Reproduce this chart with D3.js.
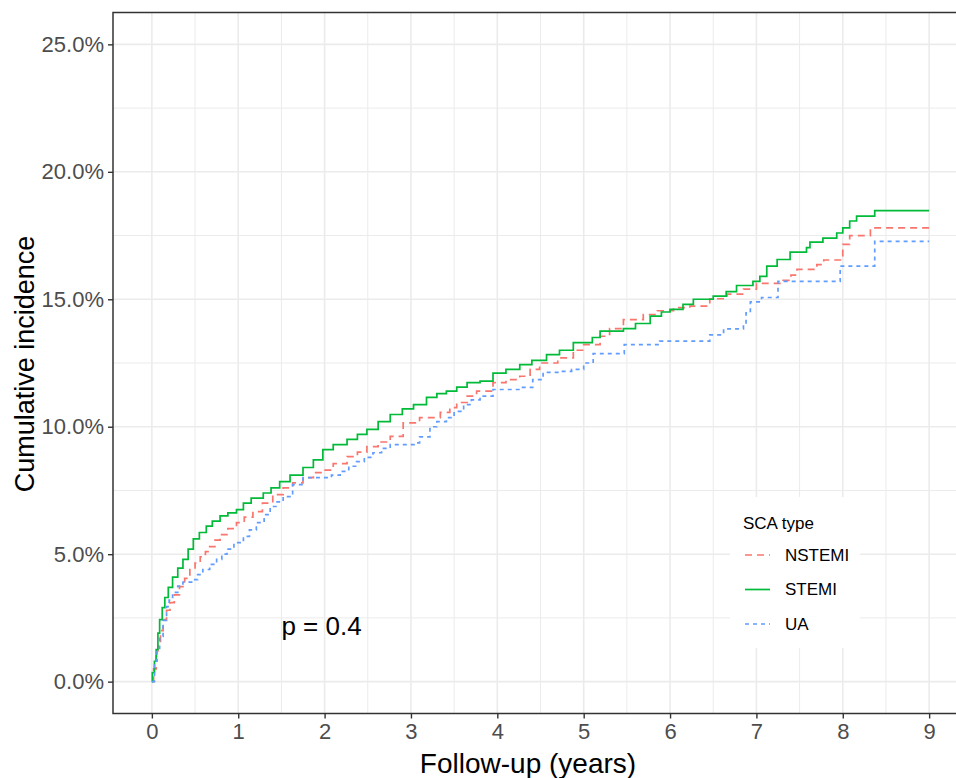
<!DOCTYPE html>
<html>
<head>
<meta charset="utf-8">
<script src="https://cdn.jsdelivr.net/npm/d3@7"></script>
<style>
  html, body { margin: 0; padding: 0; background: #fff; }
  svg { display: block; font-family: "Liberation Sans", Arial, sans-serif; }
</style>
</head>
<body>
<svg id="chart" width="956" height="778"></svg>
<script>
// ---------------- data ----------------
const seriesNames = ["NSTEMI", "STEMI", "UA"];
const xTicks = [0, 1, 2, 3, 4, 5, 6, 7, 8, 9];
const yTicks = [0, 5, 10, 15, 20, 25];
const yTickLabels = ["0.0%", "5.0%", "10.0%", "15.0%", "20.0%", "25.0%"];
const pValueLabel = "p = 0.4";

// [years, cumulative incidence %]
const nstemiData = [[0,0],[0.02,0.5],[0.05,1.0],[0.07,1.53],[0.1,2.0],[0.13,2.43],[0.17,2.8],[0.21,3.1],[0.26,3.4],[0.32,3.73],[0.38,4.05],[0.44,4.4],[0.5,4.65],[0.56,4.9],[0.62,5.1],[0.67,5.3],[0.73,5.55],[0.79,5.77],[0.88,6.0],[0.98,6.24],[1.07,6.45],[1.17,6.67],[1.28,7.0],[1.4,7.34],[1.52,7.6],[1.63,7.8],[1.75,8.0],[1.87,8.2],[1.98,8.3],[2.1,8.55],[2.26,8.83],[2.38,9.0],[2.49,9.22],[2.62,9.4],[2.76,9.62],[2.91,10.15],[3.1,10.36],[3.34,10.56],[3.45,10.75],[3.53,10.95],[3.65,11.2],[3.76,11.4],[3.95,11.73],[4.1,11.85],[4.26,11.98],[4.38,12.25],[4.49,12.5],[4.7,12.7],[4.88,13.0],[5.0,13.22],[5.19,13.55],[5.3,13.85],[5.46,14.2],[5.69,14.4],[5.85,14.55],[6.04,14.67],[6.23,14.73],[6.46,15.02],[6.66,15.2],[6.85,15.4],[7.0,15.62],[7.31,15.74],[7.4,15.95],[7.47,16.17],[7.7,16.36],[7.78,16.54],[8.0,17.15],[8.08,17.5],[8.32,17.8],[9.0,17.8]];

const stemiData = [[0,0],[0.005,0.35],[0.03,0.8],[0.05,1.26],[0.07,1.9],[0.09,2.43],[0.12,2.9],[0.15,3.3],[0.19,3.7],[0.24,4.1],[0.3,4.45],[0.36,4.8],[0.42,5.2],[0.48,5.6],[0.55,5.85],[0.63,6.1],[0.7,6.3],[0.79,6.5],[0.88,6.62],[0.98,6.75],[1.06,7.0],[1.15,7.2],[1.29,7.4],[1.38,7.6],[1.48,7.85],[1.6,8.1],[1.75,8.4],[1.87,8.7],[1.98,9.1],[2.1,9.3],[2.26,9.5],[2.38,9.7],[2.49,9.9],[2.62,10.2],[2.76,10.48],[2.9,10.7],[3.03,10.87],[3.18,11.15],[3.3,11.3],[3.41,11.4],[3.53,11.55],[3.65,11.73],[3.8,11.79],[3.95,12.1],[4.1,12.25],[4.26,12.44],[4.4,12.6],[4.57,12.83],[4.72,13.0],[4.88,13.3],[5.1,13.5],[5.19,13.75],[5.46,13.85],[5.6,14.05],[5.77,14.34],[5.9,14.5],[6.0,14.6],[6.15,14.8],[6.27,15.0],[6.5,15.12],[6.65,15.3],[6.77,15.54],[6.96,15.7],[7.04,15.9],[7.12,16.3],[7.24,16.56],[7.39,16.85],[7.58,17.03],[7.62,17.24],[7.77,17.4],[7.93,17.6],[8.0,17.8],[8.08,18.07],[8.16,18.26],[8.37,18.48],[9.0,18.48]];

const uaData = [[0,0],[0.03,0.8],[0.06,1.3],[0.09,1.77],[0.13,2.4],[0.17,2.94],[0.2,3.2],[0.24,3.5],[0.3,3.75],[0.36,3.9],[0.48,4.0],[0.53,4.2],[0.59,4.4],[0.67,4.6],[0.75,4.8],[0.81,5.0],[0.87,5.2],[0.95,5.45],[1.06,5.7],[1.13,5.95],[1.21,6.24],[1.3,6.55],[1.37,6.87],[1.45,7.05],[1.52,7.26],[1.63,7.73],[1.75,8.0],[2.0,8.0],[2.08,8.1],[2.18,8.25],[2.28,8.45],[2.37,8.63],[2.46,8.8],[2.56,8.98],[2.66,9.15],[2.76,9.3],[3.05,9.37],[3.1,9.6],[3.22,10.0],[3.3,10.2],[3.41,10.36],[3.5,10.6],[3.61,10.87],[3.7,11.05],[3.8,11.2],[3.95,11.46],[4.26,11.54],[4.41,11.85],[4.53,12.13],[4.73,12.17],[4.86,12.25],[5.0,12.5],[5.11,12.87],[5.47,13.22],[5.88,13.36],[6.46,13.6],[6.62,13.84],[6.85,14.0],[6.88,14.47],[6.93,14.9],[7.06,15.07],[7.25,15.7],[7.97,16.3],[8.37,17.27],[9.0,17.27]];

// ---------------- drawing ----------------
const svg = d3.select("#chart");
const panel = { left: 113, right: 968, top: 12.5, bottom: 713.5 };

const x = d3.scaleLinear().domain([-0.45, 9.45]).range([panel.left, panel.right]);
const y = d3.scaleLinear().domain([-1.25, 26.25]).range([panel.bottom, panel.top]);

const colors = { NSTEMI: "#F8766D", STEMI: "#00BA38", UA: "#619CFF" };
const dashes = { NSTEMI: "7,5", STEMI: null, UA: "4,4" };
const dataBy = { NSTEMI: nstemiData, STEMI: stemiData, UA: uaData };

// grid
const grid = svg.append("g");
const xMinor = d3.range(-0.5, 10, 1).filter(v => x(v) > panel.left && x(v) < panel.right);
const yMinor = d3.range(-2.5, 27.5, 5).filter(v => y(v) < panel.bottom && y(v) > panel.top);
grid.selectAll(".xminor").data(xMinor).join("line")
  .attr("x1", d => x(d)).attr("x2", d => x(d)).attr("y1", panel.top).attr("y2", panel.bottom)
  .attr("stroke", "#EBEBEB").attr("stroke-width", 1);
grid.selectAll(".yminor").data(yMinor).join("line")
  .attr("y1", d => y(d)).attr("y2", d => y(d)).attr("x1", panel.left).attr("x2", panel.right)
  .attr("stroke", "#EBEBEB").attr("stroke-width", 1);
grid.selectAll(".xmajor").data(xTicks).join("line")
  .attr("x1", d => x(d)).attr("x2", d => x(d)).attr("y1", panel.top).attr("y2", panel.bottom)
  .attr("stroke", "#EBEBEB").attr("stroke-width", 1.6);
grid.selectAll(".ymajor").data(yTicks).join("line")
  .attr("y1", d => y(d)).attr("y2", d => y(d)).attr("x1", panel.left).attr("x2", panel.right)
  .attr("stroke", "#EBEBEB").attr("stroke-width", 1.6);

// curves
const line = d3.line().x(d => x(d[0])).y(d => y(d[1])).curve(d3.curveStepAfter);
seriesNames.forEach(name => {
  svg.append("path").datum(dataBy[name])
    .attr("d", line)
    .attr("fill", "none")
    .attr("stroke", colors[name])
    .attr("stroke-width", 1.7)
    .attr("stroke-dasharray", dashes[name]);
});

// panel border (right side lies beyond the visible area)
svg.append("rect")
  .attr("x", panel.left).attr("y", panel.top)
  .attr("width", panel.right - panel.left).attr("height", panel.bottom - panel.top)
  .attr("fill", "none").attr("stroke", "#333333").attr("stroke-width", 1.5);

// axes
const xAxis = d3.axisBottom(x).tickValues(xTicks).tickSize(5).tickPadding(5).tickFormat(d3.format("d"));
const gx = svg.append("g").attr("transform", `translate(0,${panel.bottom})`).call(xAxis);
gx.select(".domain").remove();
gx.selectAll(".tick line").attr("stroke", "#333333").attr("stroke-width", 1.4);
gx.selectAll(".tick text").attr("fill", "#4D4D4D").style("font-size", "22px")
  .attr("font-family", "Liberation Sans, Arial, sans-serif");

const yAxis = d3.axisLeft(y).tickValues(yTicks).tickSize(5).tickPadding(4)
  .tickFormat((d, i) => yTickLabels[i]);
const gy = svg.append("g").attr("transform", `translate(${panel.left},0)`).call(yAxis);
gy.select(".domain").remove();
gy.selectAll(".tick line").attr("stroke", "#333333").attr("stroke-width", 1.4);
gy.selectAll(".tick text").attr("fill", "#4D4D4D").style("font-size", "22px")
  .attr("font-family", "Liberation Sans, Arial, sans-serif");

// axis titles
svg.append("text").attr("x", 528).attr("y", 773).attr("text-anchor", "middle")
  .style("font-size", "28px").attr("fill", "#000").text("Follow-up (years)");
svg.append("text").attr("transform", "translate(34,364) rotate(-90)").attr("text-anchor", "middle")
  .style("font-size", "27px").attr("fill", "#000").text("Cumulative incidence");

// p-value
svg.append("text").attr("x", x(1.5)).attr("y", y(2.2)).attr("dy", "0.35em")
  .style("font-size", "26px").attr("fill", "#000").text(pValueLabel);

// legend
const lg = svg.append("g").attr("transform", "translate(730,497)");
lg.append("rect").attr("width", 130).attr("height", 151).attr("fill", "#fff");
lg.append("text").attr("x", 13).attr("y", 32).style("font-size", "17px").attr("fill", "#000").text("SCA type");
seriesNames.forEach((name, i) => {
  const yy = 58 + i * 34.5;
  lg.append("line").attr("x1", 15).attr("x2", 40).attr("y1", yy).attr("y2", yy)
    .attr("stroke", colors[name]).attr("stroke-width", 1.7).attr("stroke-dasharray", dashes[name]);
  lg.append("text").attr("x", 55).attr("y", yy).attr("dy", "0.35em")
    .style("font-size", "17px").attr("fill", "#000").text(name);
});
</script>
</body>
</html>
